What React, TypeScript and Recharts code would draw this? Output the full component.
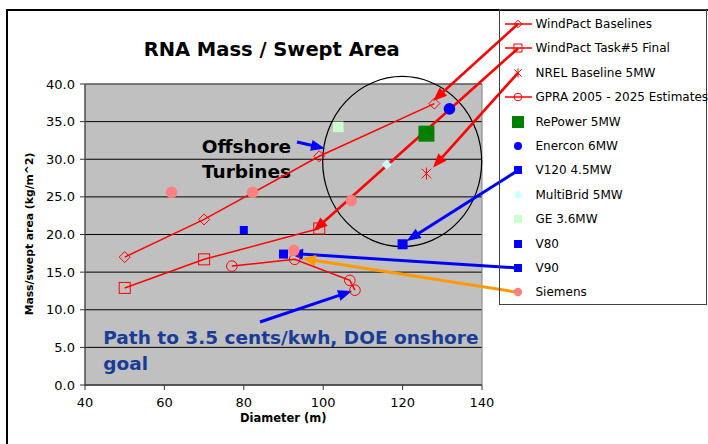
import React from 'react';
import {
  ScatterChart,
  Scatter,
  XAxis,
  YAxis,
  CartesianGrid,
  ReferenceLine,
  ReferenceArea,
  Legend,
} from 'recharts';

const FONT = '"DejaVu Sans", Verdana, sans-serif';

// ---- axis ticks ----
const xTicks = [40, 60, 80, 100, 120, 140];
const yTicks = [0, 5, 10, 15, 20, 25, 30, 35, 40];

// ---- series values (Diameter m, kg/m^2) ----
const windpactBaselines = [
  { x: 50, y: 17.0 },
  { x: 70, y: 22.0 },
  { x: 99, y: 30.4 },
  { x: 128, y: 37.4 },
];
const windpactTask5 = [
  { x: 50, y: 12.9 },
  { x: 70, y: 16.7 },
  { x: 99, y: 20.8 },
];
const nrelBaseline = [{ x: 126, y: 28.1 }];
const gpra = [
  { x: 77, y: 15.8 },
  { x: 92.8, y: 16.7 },
  { x: 106.7, y: 13.9 },
  { x: 108, y: 12.6 },
];
const repower = [{ x: 126, y: 33.4 }];
const enercon = [{ x: 131.8, y: 36.7 }];
const v120 = [{ x: 120, y: 18.7 }];
const multibrid = [{ x: 116, y: 29.3 }];
const ge36 = [{ x: 103.8, y: 34.3 }];
const v80 = [{ x: 80, y: 20.6 }];
const v90 = [{ x: 90, y: 17.4 }];
const siemens = [
  { x: 61.8, y: 25.6 },
  { x: 82.2, y: 25.6 },
  { x: 107.1, y: 24.5 },
  { x: 92.6, y: 17.9 },
];

// ---- annotation arrows (data coordinates: from -> to) ----
const arrowFrom = [
  [149.07, 47.97],
  [149.07, 44.73],
  [149.07, 41.49],
  [149.07, 28.52],
  [149.07, 15.55],
  [149.07, 12.31],
  [93.4, 32.29],
  [84.08, 8.37],
];
const arrowTo = [
  [127.66, 37.74],
  [97.56, 20.47],
  [127.66, 28.9],
  [121.03, 19.14],
  [91.39, 17.5],
  [94.58, 16.84],
  [100.45, 31.43],
  [107.25, 12.49],
];
const arrowColors = ['#FF0000', '#FF0000', '#FF0000', '#0000FF', '#0000FF', '#FF9900', '#0000FF', '#0000FF'];

// ---- offshore ellipse bounds (data coordinates) ----
const ellipseX = [99.87, 139.92];
const ellipseY = [18.39, 41.0];

type Kind = 'diamondOpen' | 'squareOpen' | 'star' | 'circleOpen' | 'square' | 'circle' | 'diamond';

const series: {
  name: string;
  data: { x: number; y: number }[];
  kind: Kind;
  color: string;
  size: number;
  legendSize: number;
  line?: boolean;
}[] = [
  { name: 'WindPact Baselines', data: windpactBaselines, kind: 'diamondOpen', color: '#FF0000', size: 5.5, legendSize: 3.8, line: true },
  { name: 'WindPact Task#5 Final', data: windpactTask5, kind: 'squareOpen', color: '#FF0000', size: 5.5, legendSize: 4, line: true },
  { name: 'NREL Baseline 5MW', data: nrelBaseline, kind: 'star', color: '#FF0000', size: 6, legendSize: 4.5 },
  { name: 'GPRA 2005 - 2025 Estimates', data: gpra, kind: 'circleOpen', color: '#FF0000', size: 5.3, legendSize: 3.8, line: true },
  { name: 'RePower 5MW', data: repower, kind: 'square', color: '#008000', size: 8, legendSize: 6 },
  { name: 'Enercon 6MW', data: enercon, kind: 'circle', color: '#0000FF', size: 5.8, legendSize: 4 },
  { name: 'V120 4.5MW', data: v120, kind: 'square', color: '#0000FF', size: 5, legendSize: 4 },
  { name: 'MultiBrid 5MW', data: multibrid, kind: 'diamond', color: '#CCFFFF', size: 5, legendSize: 4.5 },
  { name: 'GE 3.6MW', data: ge36, kind: 'square', color: '#CCFFCC', size: 5.3, legendSize: 4 },
  { name: 'V80', data: v80, kind: 'square', color: '#0000FF', size: 4, legendSize: 4 },
  { name: 'V90', data: v90, kind: 'square', color: '#0000FF', size: 4.5, legendSize: 4 },
  { name: 'Siemens', data: siemens, kind: 'circle', color: '#FF8080', size: 5.8, legendSize: 4.2 },
];

function drawMarker(kind: Kind, cx: number, cy: number, s: number, color: string) {
  switch (kind) {
    case 'diamondOpen':
      return (
        <polygon
          points={`${cx},${cy - s} ${cx + s},${cy} ${cx},${cy + s} ${cx - s},${cy}`}
          fill="none"
          stroke={color}
          strokeWidth={1}
        />
      );
    case 'diamond':
      return (
        <polygon
          points={`${cx},${cy - s} ${cx + s},${cy} ${cx},${cy + s} ${cx - s},${cy}`}
          fill={color}
          stroke="none"
        />
      );
    case 'squareOpen':
      return <rect x={cx - s} y={cy - s} width={2 * s} height={2 * s} fill="none" stroke={color} strokeWidth={1} />;
    case 'square':
      return <rect x={cx - s} y={cy - s} width={2 * s} height={2 * s} fill={color} stroke="none" />;
    case 'circleOpen':
      return <circle cx={cx} cy={cy} r={s} fill="none" stroke={color} strokeWidth={1} />;
    case 'circle':
      return <circle cx={cx} cy={cy} r={s} fill={color} stroke="none" />;
    case 'star': {
      const d = s * 0.8;
      return (
        <g stroke={color} strokeWidth={1}>
          <line x1={cx} y1={cy - s} x2={cx} y2={cy + s} />
          <line x1={cx - d} y1={cy - d} x2={cx + d} y2={cy + d} />
          <line x1={cx - d} y1={cy + d} x2={cx + d} y2={cy - d} />
        </g>
      );
    }
  }
  return null;
}

const ArrowShape = (props: any) => {
  const x1 = Number(props.x1);
  const y1 = Number(props.y1);
  const x2 = Number(props.x2);
  const y2 = Number(props.y2);
  const color = props.arrowColor;
  const dx = x2 - x1;
  const dy = y2 - y1;
  const len = Math.hypot(dx, dy) || 1;
  const ux = dx / len;
  const uy = dy / len;
  const L = 14;
  const W = 5.5;
  const bx = x2 - ux * L;
  const by = y2 - uy * L;
  const p1 = `${x2},${y2}`;
  const p2 = `${bx - uy * W},${by + ux * W}`;
  const p3 = `${bx + uy * W},${by - ux * W}`;
  return (
    <g>
      <line x1={x1} y1={y1} x2={bx + ux * 2} y2={by + uy * 2} stroke={color} strokeWidth={color === '#FF0000' ? 2.6 : 3} />
      <polygon points={`${p1} ${p2} ${p3}`} fill={color} stroke="none" />
    </g>
  );
};

const EllipseShape = (props: any) => {
  const { x, y, width, height } = props;
  return (
    <ellipse
      cx={x + width / 2}
      cy={y + height / 2}
      rx={width / 2}
      ry={height / 2}
      fill="none"
      stroke="#000"
      strokeWidth={1.2}
    />
  );
};

const LegendBox = () => (
  <div
    style={{
      position: 'relative',
      width: 208,
      height: 296,
      boxSizing: 'border-box',
      border: '1px solid #404040',
      fontFamily: FONT,
      fontSize: 12,
      color: '#000',
    }}
  >
    {series.map((s, i) => {
      const top = 2 + 24.4 * i;
      return (
        <div key={s.name} style={{ position: 'absolute', left: 0, top, width: 206, height: 24 }}>
          <svg width={36} height={24} style={{ position: 'absolute', left: 0, top: 0, overflow: 'visible' }}>
            {s.line ? <line x1={5} y1={12} x2={32} y2={12} stroke={s.color} strokeWidth={1.5} /> : null}
            {drawMarker(s.kind, 18, 12, s.legendSize, s.color)}
          </svg>
          <span
            style={{
              position: 'absolute',
              left: 35.5,
              top: 0,
              lineHeight: '24px',
              whiteSpace: 'nowrap',
            }}
          >
            {s.name}
          </span>
        </div>
      );
    })}
  </div>
);

export default function App() {
  return (
    <div style={{ position: 'absolute', left: 0, top: 0, width: 708, height: 444, overflow: 'hidden', background: '#fff' }}>
      <div
        style={{
          position: 'absolute',
          left: 6,
          top: 9,
          width: 740,
          height: 480,
          borderLeft: '2px solid #000',
          borderTop: '2px solid #000',
        }}
      />
      <div style={{ position: 'absolute', left: 0, top: 0 }}>
        <ScatterChart width={708} height={444} margin={{ top: 84, right: 226, bottom: 29, left: 35 }}>
          <CartesianGrid vertical={false} stroke="#000" strokeWidth={1} fill="#C0C0C0" fillOpacity={1} />
          <ReferenceArea x1={40} x2={140} y1={0} y2={40} fill="none" fillOpacity={0} stroke="#808080" strokeWidth={1} ifOverflow="visible" />
          <XAxis
            type="number"
            dataKey="x"
            domain={[40, 140]}
            ticks={xTicks}
            tickSize={5}
            tickMargin={8}
            height={30}
            axisLine={{ stroke: '#333' }}
            tickLine={{ stroke: '#333' }}
            tick={{ fill: '#000', fontSize: 13, fontFamily: FONT }}
          />
          <YAxis
            type="number"
            dataKey="y"
            domain={[0, 40]}
            ticks={yTicks}
            tickFormatter={(v: number) => v.toFixed(1)}
            width={50}
            tickSize={5}
            tickMargin={5}
            axisLine={{ stroke: '#333' }}
            tickLine={{ stroke: '#333' }}
            tick={{ fill: '#000', fontSize: 13, fontFamily: FONT }}
          />
          <ReferenceArea
            x1={ellipseX[0]}
            x2={ellipseX[1]}
            y1={ellipseY[0]}
            y2={ellipseY[1]}
            ifOverflow="visible"
            shape={EllipseShape}
          />
          {series.map((s) => (
            <Scatter
              key={s.name}
              name={s.name}
              data={s.data}
              isAnimationActive={false}
              line={s.line ? { stroke: s.color, strokeWidth: 1.5 } : undefined}
              shape={(p: any) => drawMarker(s.kind, p.cx, p.cy, s.size, s.color)}
            />
          ))}
          {arrowFrom.map((f, i) => (
            <ReferenceLine
              key={`arrow-${i}`}
              segment={[
                { x: f[0], y: f[1] },
                { x: arrowTo[i][0], y: arrowTo[i][1] },
              ]}
              ifOverflow="visible"
              shape={(p: any) => <ArrowShape {...p} arrowColor={arrowColors[i]} />}
            />
          ))}
          <text x={271.7} y={56} textAnchor="middle" fontFamily={FONT} fontWeight="bold" fontSize={19.5} fill="#000">
            RNA Mass / Swept Area
          </text>
          <text x={246.5} y={152.7} textAnchor="middle" fontFamily={FONT} fontWeight="bold" fontSize={18.5} fill="#000">
            Offshore
          </text>
          <text x={246.5} y={178.3} textAnchor="middle" fontFamily={FONT} fontWeight="bold" fontSize={18.5} fill="#000">
            Turbines
          </text>
          <text x={103.3} y={344} textAnchor="start" fontFamily={FONT} fontWeight="bold" fontSize={18.5} fill="#1A3C96">
            Path to 3.5 cents/kwh, DOE onshore
          </text>
          <text x={103.3} y={370} textAnchor="start" fontFamily={FONT} fontWeight="bold" fontSize={18.5} fill="#1A3C96">
            goal
          </text>
          <text x={283.3} y={421.7} textAnchor="middle" fontFamily={FONT} fontWeight="bold" fontSize={11.5} fill="#000">
            Diameter (m)
          </text>
          <text
            x={29.5}
            y={234}
            dy="0.36em"
            transform="rotate(-90, 29.5, 234)"
            textAnchor="middle"
            fontFamily={FONT}
            fontWeight="bold"
            fontSize={10.8}
            fill="#000"
          >
            Mass/swept area (kg/m^2)
          </text>
          <Legend
            layout="vertical"
            align="center"
            verticalAlign="middle"
            wrapperStyle={{ left: 499, top: 9, width: 208, height: 296 }}
            content={() => <LegendBox />}
          />
        </ScatterChart>
      </div>
    </div>
  );
}
